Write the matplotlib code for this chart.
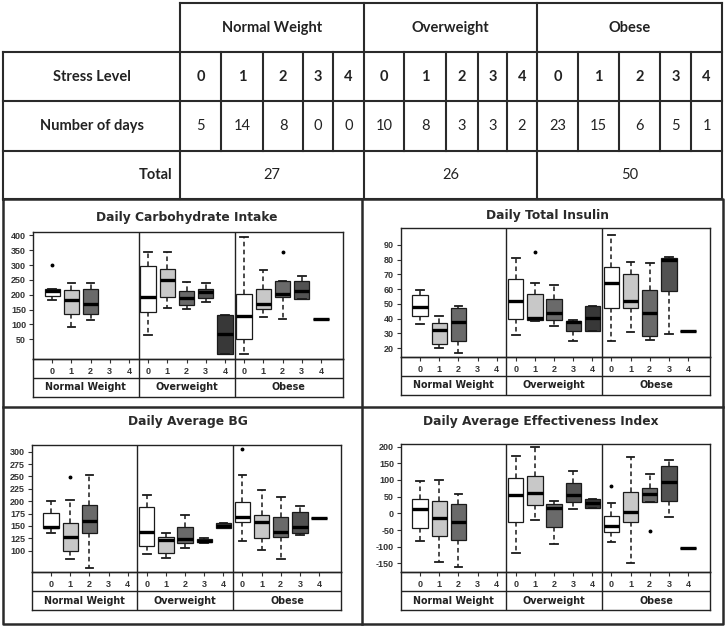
import matplotlib
matplotlib.use("Agg")
import matplotlib.pyplot as plt

W, H = 726, 627

# ---------------- data ----------------
groups = ["Normal Weight", "Overweight", "Obese"]
stress_levels = [0, 1, 2, 3, 4]
days = [5, 14, 8, 0, 0, 10, 8, 3, 3, 2, 23, 15, 6, 5, 1]
totals = [27, 26, 50]

# Daily Carbohydrate Intake (15 boxes: group x stress level), None = no data
carb_lo = [184, 91, 115, None, None, 65, 154, 151, 176, 2, 2, 126, 120, 185, 120]
carb_q1 = [197, 134, 136, None, None, 143, 193, 167, 190, 2, 50, 152, 193, 185, 120]
carb_med = [211, 183, 169, None, None, 193, 249, 188, 208, 67, 130, 168, 202, 212, 120]
carb_q3 = [220, 216, 220, None, None, 297, 285, 213, 221, 132, 202, 221, 246, 246, 120]
carb_hi = [220, 240, 238, None, None, 344, 344, 243, 238, 132, 394, 283, 246, 262, 120]
carb_out = {0: [300], 12: [344]}

# Daily Total Insulin
ins_lo = [36, 20, 16.6, None, None, 28.6, 38.5, 35, 25, 31.3, 25, 30.8, 25.6, 29.5, 31.7]
ins_q1 = [42, 23, 24.5, None, None, 40, 39, 39, 31.3, 31.3, 47, 47.5, 28.4, 59, 31.7]
ins_med = [48, 32.5, 38, None, None, 52, 40.3, 43.7, 38, 40.3, 64, 51.6, 43.7, 80, 31.7]
ins_q3 = [56, 37, 47.5, None, None, 67, 57, 53, 38.5, 48.7, 75.3, 70, 59.5, 81, 31.7]
ins_hi = [59.5, 42, 48.7, None, None, 81.4, 64, 63, 38.7, 48.7, 96.8, 78.7, 78, 82, 31.7]
ins_out = {6: [85]}

# Daily Average BG
bg_lo = [136, 82.5, 66, None, None, 92.6, 86, 105, 115, 145, 119.5, 101, 82.5, 131, 166.7]
bg_q1 = [145, 100, 136, None, None, 109.5, 96, 115, 117, 145, 157, 125, 127, 136, 166.7]
bg_med = [148.5, 127, 160, None, None, 137, 121.5, 123.6, 119.5, 150, 167.5, 157, 138.4, 148.5, 166.7]
bg_q3 = [177, 156.5, 192, None, None, 189, 128, 147, 123.6, 155, 198, 172, 167.5, 179, 166.7]
bg_hi = [200, 202, 253, None, None, 212.5, 135, 172, 125, 155, 253, 222.5, 208, 191, 166.7]
bg_out = {1: [249.5], 10: [304.7]}

# Daily Average Effectiveness Index
ei_lo = [-82, -147, -162, None, None, -118, -20, -93, 13, 17, -85, -150, 33, -10, -105]
ei_q1 = [-45, -68, -80, None, None, -25, 25, -40, 33, 17, -57, -25, 33, 38, -105]
ei_med = [12, -15, -27, None, None, 55, 62, 15, 55, 32, -37, 3, 57, 93, -105]
ei_q3 = [43, 37, 28, None, None, 107, 112, 27, 90, 43, -7, 63, 75, 142, -105]
ei_hi = [98, 100, 57, None, None, 172, 198, 37, 128, 43, 32, 168, 117, 160, -105]
ei_out = {10: [82], 12: [-52]}

level_colors = ["#ffffff", "#c8c8c8", "#6a6a6a", "#525252", "#383838"]

# ---------------- figure ----------------
fig = plt.figure(figsize=(W / 100, H / 100), dpi=100)
fig.patch.set_facecolor("white")


def ax_px(x0, y0, x1, y1, **kw):
    return fig.add_axes([x0 / W, 1 - y1 / H, (x1 - x0) / W, (y1 - y0) / H], **kw)


LC = "#2a2a2a"
bg = ax_px(0, 0, W, H)
bg.set_xlim(0, W)
bg.set_ylim(H, 0)
bg.axis("off")

# ---- table ----
col_x = [180, 221, 263, 303, 333, 364, 404, 446, 478, 507, 537, 578, 619, 660, 691, 722]
row_y = [3, 52, 101, 151, 199]
tlw = 1.5
bg.plot([180, 722], [row_y[0]] * 2, color=LC, lw=tlw)
for y in row_y[1:]:
    bg.plot([3, 722], [y, y], color=LC, lw=tlw)
bg.plot([3, 3], [52, 199], color=LC, lw=tlw)
for i, x in enumerate(col_x):
    if i % 5 == 0:
        bg.plot([x, x], [3, 199], color=LC, lw=tlw)
    else:
        bg.plot([x, x], [52, 151], color=LC, lw=tlw)

tfont = "Lato"
tfs = 10.5
for g in range(3):
    xc = (col_x[g * 5] + col_x[g * 5 + 5]) / 2
    bg.text(xc, 28, groups[g], ha="center", va="center", fontsize=tfs,
            fontweight="bold", family=tfont, color="#222")
    bg.text(xc, 175, str(totals[g]), ha="center", va="center", fontsize=tfs,
            family=tfont, color="#222")
bg.text(91.5, 77, "Stress Level", ha="center", va="center", fontsize=tfs,
        fontweight="bold", family=tfont, color="#222")
bg.text(91.5, 126, "Number of days", ha="center", va="center", fontsize=tfs,
        fontweight="bold", family=tfont, color="#222")
bg.text(172, 175, "Total", ha="right", va="center", fontsize=tfs,
        fontweight="bold", family=tfont, color="#222")
for i in range(15):
    xc = (col_x[i] + col_x[i + 1]) / 2
    bg.text(xc, 77, str(stress_levels[i % 5]), ha="center", va="center",
            fontsize=tfs, fontweight="bold", family=tfont, color="#222")
    bg.text(xc, 126, str(days[i]), ha="center", va="center", fontsize=tfs,
            family=tfont, color="#222")

# ---- panel frame ----
flw = 1.8
bg.plot([3, 723, 723, 3, 3], [199, 199, 624, 624, 199], color=LC, lw=flw)
bg.plot([362, 362], [199, 624], color=LC, lw=flw)
bg.plot([3, 723], [407, 407], color=LC, lw=flw)

XLIM = (-1.0, 15.15)


def panel(title, title_xy, main_box, strip_box, ylim, yticks,
          lo, q1, med, q3, hi, out):
    ax = ax_px(*main_box)
    st = ax_px(*strip_box)
    stats, pos, cols = [], [], []
    for i in range(15):
        if med[i] is None:
            continue
        stats.append(dict(whislo=lo[i], q1=q1[i], med=med[i], q3=q3[i],
                          whishi=hi[i], fliers=out.get(i, [])))
        pos.append(i)
        cols.append(level_colors[i % 5])
    art = ax.bxp(stats, positions=pos, widths=0.8, capwidths=0.4,
                 patch_artist=True, manage_ticks=False,
                 boxprops=dict(edgecolor="#1a1a1a", linewidth=0.9),
                 medianprops=dict(color="black", linewidth=2.4, solid_capstyle="butt"),
                 whiskerprops=dict(color="#1a1a1a", linewidth=1.1, linestyle=(0, (3, 2.2))),
                 capprops=dict(color="#1a1a1a", linewidth=1.3),
                 flierprops=dict(marker="o", markersize=1.8, markerfacecolor="black",
                                 markeredgecolor="black"))
    for b, c in zip(art["boxes"], cols):
        b.set_facecolor(c)
    ax.set_xlim(*XLIM)
    ax.set_ylim(*ylim)
    ax.set_yticks(yticks)
    ax.set_yticklabels([str(v) for v in yticks], fontsize=6.5, fontweight="bold",
                       family="Liberation Sans", color="#333")
    ax.set_xticks(range(15))
    ax.set_xticklabels([str(stress_levels[i % 5]) for i in range(15)], fontsize=6.5,
                       fontweight="bold", family="Liberation Sans", color="#333")
    ax.tick_params(axis="both", direction="out", length=3, width=0.8, pad=2,
                   colors="#333")
    ax.tick_params(axis="x", pad=3)
    for s in ax.spines.values():
        s.set_linewidth(1.0)
        s.set_color("#222")
    for xv in (4.5, 9.5):
        ax.axvline(xv, color="#222", lw=1.0)
    # strip
    st.set_xlim(*XLIM)
    st.set_ylim(2, 0)
    st.set_xticks([])
    st.set_yticks([])
    st.patch.set_alpha(0)
    for s in st.spines.values():
        s.set_linewidth(1.0)
        s.set_color("#222")
    st.axhline(1, color="#222", lw=1.0)
    for xv in (4.5, 9.5):
        st.axvline(xv, color="#222", lw=1.0)
    centers = [(XLIM[0] + 4.5) / 2, 7.0, (9.5 + XLIM[1]) / 2]
    for g in range(3):
        st.text(centers[g], 1.5, groups[g], ha="center", va="center", fontsize=6.9,
                fontweight="bold", family="DejaVu Sans", color="#222")
    bg.text(title_xy[0], title_xy[1], title, ha="center", va="center", fontsize=8.8,
            fontweight="bold", family="DejaVu Sans", color="#2a2a2a")


panel("Daily Carbohydrate Intake", (187, 217), (33, 232, 343, 359), (33, 359, 343, 397),
      (-16, 411), list(range(50, 401, 50)),
      carb_lo, carb_q1, carb_med, carb_q3, carb_hi, carb_out)
panel("Daily Total Insulin", (548, 216), (401, 228, 710, 357), (401, 357, 710, 395),
      (13.9, 101.5), list(range(20, 91, 10)),
      ins_lo, ins_q1, ins_med, ins_q3, ins_hi, ins_out)
panel("Daily Average BG", (188, 421), (32, 445, 341, 572), (32, 572, 341, 610),
      (57, 313.5), list(range(100, 301, 25)),
      bg_lo, bg_q1, bg_med, bg_q3, bg_hi, bg_out)
panel("Daily Average Effectiveness Index", (541, 422), (401, 444, 710, 572),
      (401, 572, 710, 610), (-176, 208), list(range(-150, 201, 50)),
      ei_lo, ei_q1, ei_med, ei_q3, ei_hi, ei_out)

fig.savefig("out.png", dpi=100)
